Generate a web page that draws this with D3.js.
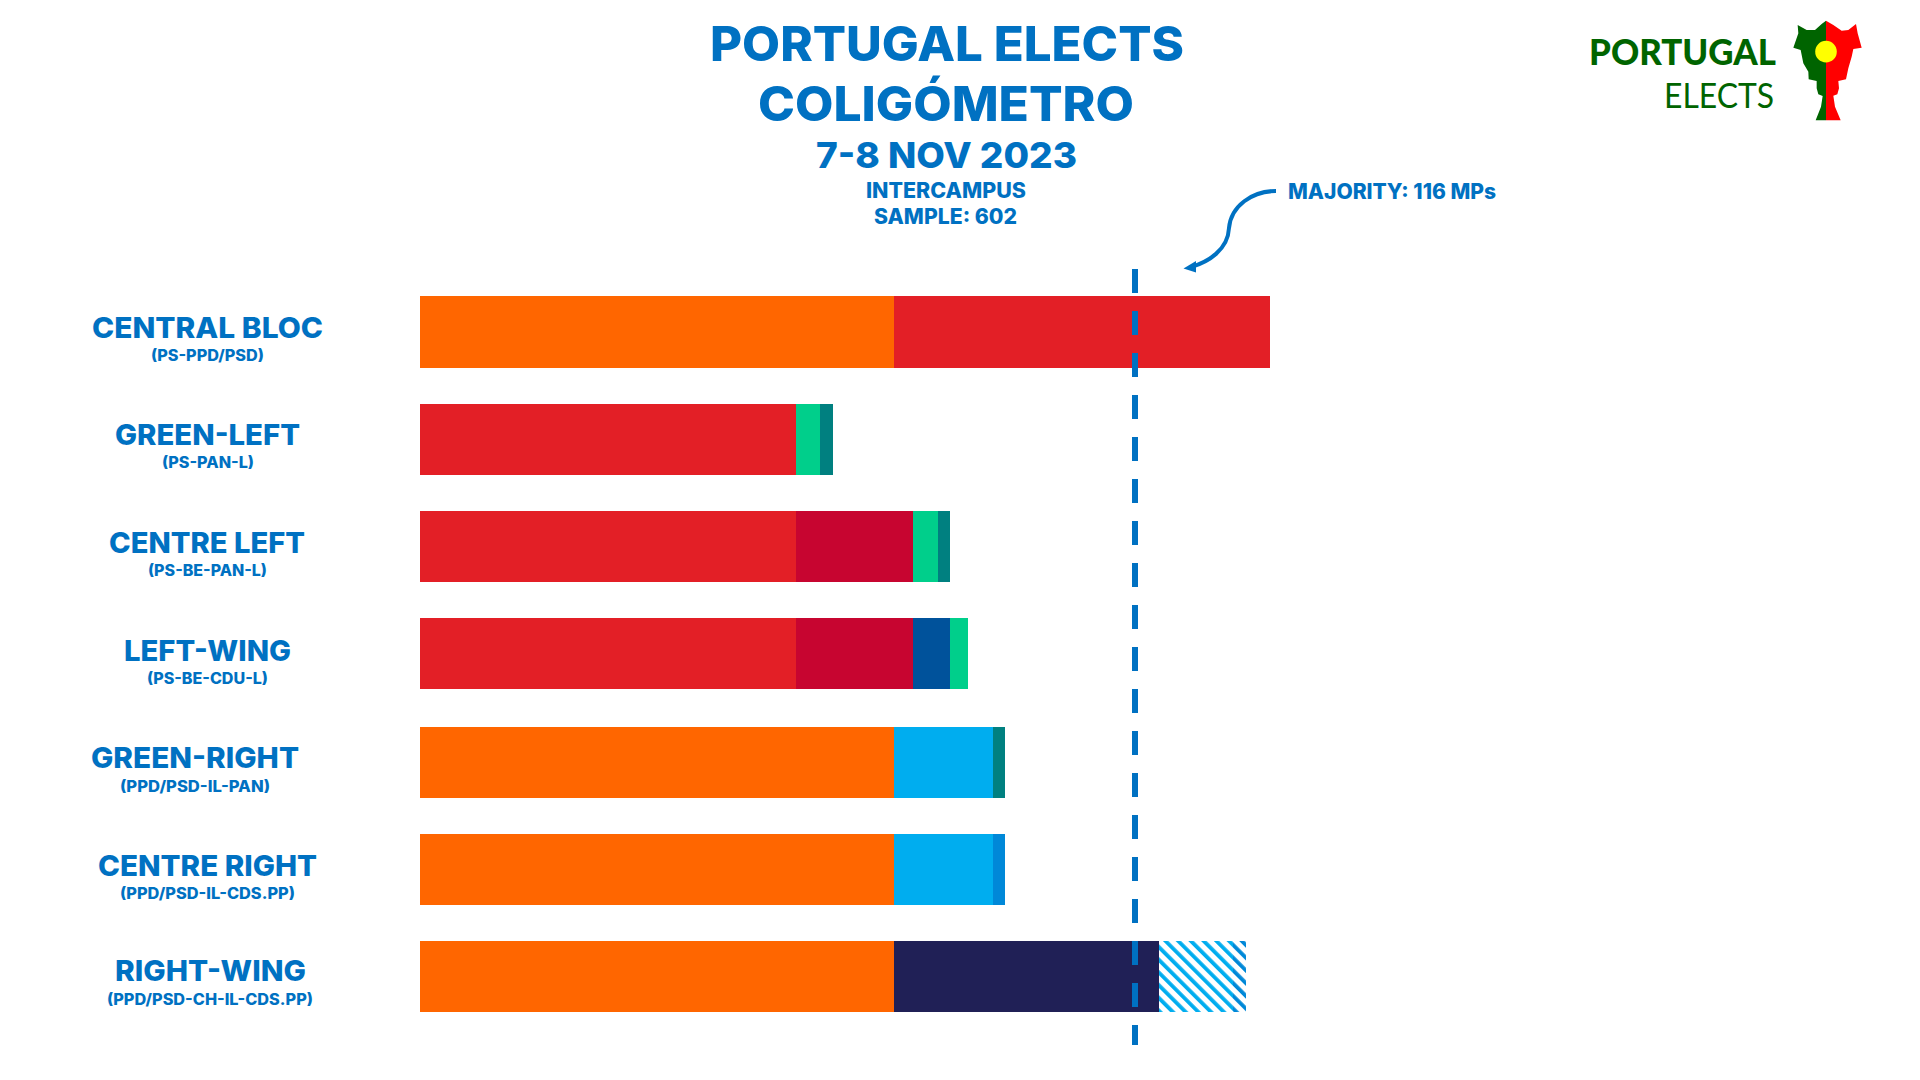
<!DOCTYPE html>
<html>
<head>
<meta charset="utf-8">
<script src="https://cdnjs.cloudflare.com/ajax/libs/d3/7.8.5/d3.min.js"></script>
<style>
html,body{margin:0;padding:0;background:#fff;overflow:hidden}
svg{display:block}
text{font-family:Inter,sans-serif;font-weight:800;fill:#0071C2}
.logo{font-family:Lato,sans-serif;fill:#006400}
</style>
</head>
<body>
<svg id="chart" width="1920" height="1080"></svg>
<script>
// ---------- data ----------
const categories = ["CENTRAL BLOC","GREEN-LEFT","CENTRE LEFT","LEFT-WING","GREEN-RIGHT","CENTRE RIGHT","RIGHT-WING"];
const subtitles  = ["(PS-PPD/PSD)","(PS-PAN-L)","(PS-BE-PAN-L)","(PS-BE-CDU-L)","(PPD/PSD-IL-PAN)","(PPD/PSD-IL-CDS.PP)","(PPD/PSD-CH-IL-CDS.PP)"];
const parties = [
  ["PSD","PS"],
  ["PS","PAN","L"],
  ["PS","BE","PAN","L"],
  ["PS","BE","CDU","PAN"],
  ["PSD","IL","L"],
  ["PSD","IL","CDS"],
  ["PSD","CH","ILh","CDSh"]
];
const seats = [
  [77,61],
  [61,4,2],
  [61,19,4,2],
  [61,19,6,3],
  [77,16,2],
  [77,16,2],
  [77,43,12,2]
];
const majority = 116;
const partyKeys   = ["PSD","PS","BE","PAN","L","CDU","IL","CDS","CH","ILh","CDSh"];
const partyFills  = ["#FF6600","#E31F26","#C70530","#00CF8B","#008080","#00529B","#00ADEF","#0088D8","#202056","url(#hatchIL)","url(#hatchCDS)"];

// ---------- text layout [text, left, right, baseline, size] ----------
const titleBlocks = [
  ["PORTUGAL ELECTS",710,1184,61,48],
  ["COLIGÓMETRO",758,1134,121,48],
  ["7-8 NOV 2023",816,1077,168,36],
  ["INTERCAMPUS",866,1026,198,21],
  ["SAMPLE: 602",874,1017,223.5,21],
  ["MAJORITY: 116 MPs",1288,1496,199,21]
];
const labelSpan = [[92,323],[115,300],[109,305],[124,291],[91,299],[98,317],[115,306]];
const subSpan   = [[151,264],[162,254],[148,267],[147,268],[120,270],[120,295],[107,313]];
const labelBase = [42,41,42,43,41,42,40];
const subBase   = [65,64,65,66,65,65,64];
const rowTop    = [296,404,511,618,727,834,941];
const rowHeight = [72,71,71,71,71,71,71];

// ---------- scales ----------
const svg = d3.select("#chart");
const x = d3.scaleLinear().domain([0,majority]).range([420,1134.7]);
const y = d3.scaleOrdinal().domain(categories).range(rowTop);
const h = d3.scaleOrdinal().domain(categories).range(rowHeight);
const color = d3.scaleOrdinal().domain(partyKeys).range(partyFills);

// ---------- hatch patterns ----------
const defs = svg.append("defs");
[["hatchIL","#00ADEF"],["hatchCDS","#0088D8"]].forEach(([id,c])=>{
  const p = defs.append("pattern").attr("id",id).attr("patternUnits","userSpaceOnUse")
    .attr("width",9).attr("height",9)
    .attr("patternTransform","translate(1160,941) rotate(-45)");
  p.append("rect").attr("width",9).attr("height",9).attr("fill","#fff");
  p.append("rect").attr("x",2).attr("width",3.8).attr("height",9).attr("fill",c);
});

// ---------- bars ----------
const rows = svg.append("g").selectAll("g").data(categories).join("g");
rows.each(function(cat,i){
  let cum = 0;
  const segs = seats[i].map((v,j)=>{const s={party:parties[i][j],x0:cum,x1:cum+v};cum+=v;return s;});
  d3.select(this).selectAll("rect").data(segs).join("rect")
    .attr("x",d=>Math.round(x(d.x0)))
    .attr("width",d=>Math.round(x(d.x1))-Math.round(x(d.x0)))
    .attr("y",y(cat))
    .attr("height",h(cat))
    .attr("fill",d=>color(d.party))
    .attr("shape-rendering","crispEdges");
});

// ---------- majority line ----------
svg.append("line")
  .attr("x1",Math.round(x(majority))).attr("x2",Math.round(x(majority)))
  .attr("y1",269).attr("y2",1045)
  .attr("stroke","#0071C2").attr("stroke-width",6)
  .attr("stroke-dasharray","24 18")
  .attr("shape-rendering","crispEdges");

// ---------- arrow ----------
svg.append("path")
  .attr("d","M1276,191 C1252,191 1231,206 1229,228 C1228,250 1208,262 1191,267")
  .attr("fill","none").attr("stroke","#0071C2").attr("stroke-width",4);
svg.append("path")
  .attr("d","M1183.5,268.5 L1196,261 L1196,272.5 Z").attr("fill","#0071C2");

// ---------- fitted text ----------
function fitted(sel,txt,l,r,base,size){
  return sel.append("text").text(txt)
    .attr("x",l).attr("y",base).attr("font-size",size)
    .attr("textLength",r-l).attr("lengthAdjust","spacingAndGlyphs");
}
titleBlocks.forEach(t=>fitted(svg,t[0],t[1],t[2],t[3],t[4]));
categories.forEach((c,i)=>{
  fitted(svg,c,labelSpan[i][0],labelSpan[i][1],y(c)+labelBase[i],29);
  fitted(svg,subtitles[i],subSpan[i][0],subSpan[i][1],y(c)+subBase[i],15.5);
});

// ---------- logo ----------
const logo = svg.append("g");
logo.append("text").attr("class","logo").text("PORTUGAL")
  .attr("x",1589).attr("y",65).attr("font-size",36).style("font-weight",900)
  .attr("textLength",187).attr("lengthAdjust","spacingAndGlyphs");
logo.append("text").attr("class","logo").text("ELECTS")
  .attr("x",1664).attr("y",108).attr("font-size",35).style("font-weight",400)
  .attr("textLength",110).attr("lengthAdjust","spacingAndGlyphs");
const toPath = pts => "M"+pts.map(p=>[1540+p[0]/3,p[1]/3].join(",")).join("L")+"Z";
const rightHalf = [[858,62],[880,75],[905,92],[925,90],[948,72],[953,100],[965,143],[940,147],[935,170],[925,205],[918,238],[895,243],[897,265],[892,283],[880,287],[885,320],[902,361],[858,361]];
const leftHalf  = [[858,62],[845,72],[825,90],[800,90],[773,75],[775,100],[760,143],[782,150],[790,190],[805,215],[806,238],[830,243],[830,265],[835,283],[848,288],[843,320],[827,361],[858,361]];
logo.append("path").attr("d",toPath(leftHalf)).attr("fill","#006400");
logo.append("path").attr("d",toPath(rightHalf)).attr("fill","#FF0000");
logo.append("circle").attr("cx",1540+858/3).attr("cy",155/3).attr("r",10.8).attr("fill","#FFFF00");
</script>
</body>
</html>
